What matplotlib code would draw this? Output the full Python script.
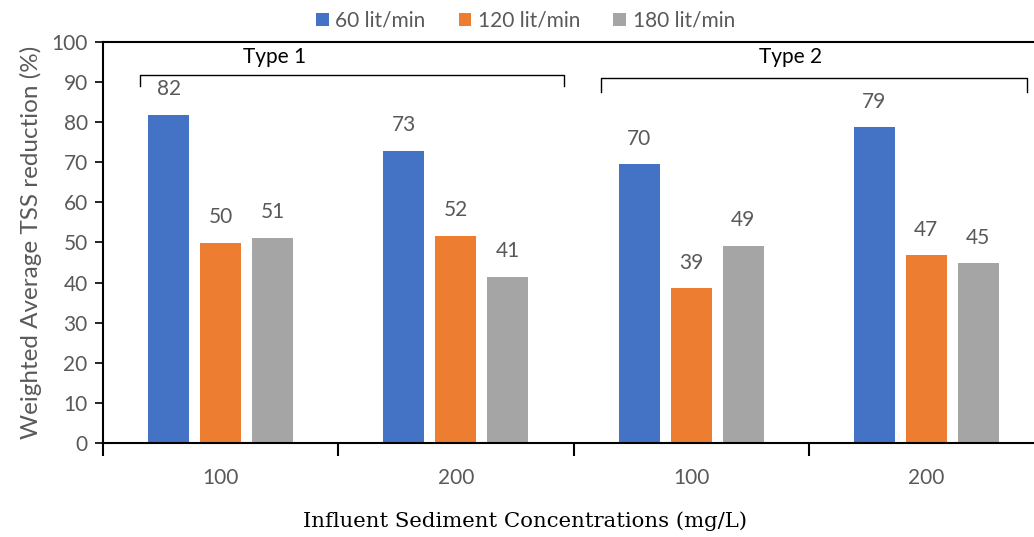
import numpy as np
import matplotlib
matplotlib.use("Agg")
import matplotlib.pyplot as plt

# weighted average TSS reduction (%) for each flow rate
categories = ["100", "200", "100", "200"]
series_names = ["60 lit/min", "120 lit/min", "180 lit/min"]
q60 = [81.8, 72.9, 69.5, 78.7]
q120 = [49.9, 51.6, 38.6, 46.8]
q180 = [51.2, 41.4, 49.2, 44.8]
group_names = ["Type 1", "Type 2"]

colors = ["#4472C4", "#ED7D31", "#A5A5A5"]
txt_gray = "#595959"
font = "Lato"
fs = 15

W, H = 1034, 537
fig = plt.figure(figsize=(W / 100, H / 100), dpi=100)
# the axis runs on past the right edge of the figure
ax = fig.add_axes([103 / W, 1 - 443 / H, (1044 - 103) / W, (443 - 42) / H])

x = np.arange(len(categories))
bar_w = 0.175
step = 0.221
for k, vals in enumerate([q60, q120, q180]):
    pos = x + (k - 1) * step
    ax.bar(pos, vals, width=bar_w, color=colors[k], label=series_names[k], zorder=2)
    for p, v in zip(pos, vals):
        ax.text(p, v + 6.4, f"{v:.0f}", ha="center", va="center", fontsize=fs,
                color=txt_gray, family=font)

ax.set_xlim(-0.5, 3.5)
ax.set_ylim(0, 100)
ax.set_yticks(np.arange(0, 101, 10))
ax.tick_params(axis="y", direction="out", length=6, width=1.2, labelsize=fs,
               labelcolor=txt_gray, pad=5)
for lab in ax.get_yticklabels():
    lab.set_family(font)

# category labels in the middle, tick marks on the boundaries
ax.set_xticks(x)
ax.set_xticklabels(categories, family=font, fontsize=fs, color=txt_gray)
ax.tick_params(axis="x", which="major", length=0, pad=18)
ax.set_xticks(np.arange(-0.5, 4, 1.0), minor=True)
ax.tick_params(axis="x", which="minor", direction="out", length=9, width=1.5)

for side in ["left", "bottom", "top"]:
    ax.spines[side].set_linewidth(1.5)
ax.spines["right"].set_visible(False)

# group brackets
def bracket(x0, x1, y_top, y_bot, label, label_x, label_y):
    ax.plot([x0, x0, x1, x1], [y_bot, y_top, y_top, y_bot], color="black",
            lw=1.0, clip_on=False, zorder=3)
    ax.text(label_x, label_y, label, ha="center", va="center", fontsize=fs,
            color="black", family=font)

bracket(-0.342, 1.46, 91.8, 89.0, group_names[0], 0.23, 96.3)
bracket(1.616, 3.428, 91.0, 87.5, group_names[1], 2.423, 96.3)

ax.set_ylabel("Weighted Average TSS reduction (%)", fontsize=17.5, color=txt_gray,
              family=font, labelpad=7)
ax.set_xlabel("Influent Sediment Concentrations (mg/L)", fontsize=15.3,
              color="black", family="DejaVu Serif")
ax.xaxis.set_label_coords(0.4485, -0.17, transform=ax.transAxes)

leg = fig.legend(loc="upper center", bbox_to_anchor=(0.508, 1.015), ncol=3,
                 frameon=False, prop={"family": font, "size": fs},
                 handlelength=0.62, handleheight=0.62, handletextpad=0.3,
                 columnspacing=1.6)
for t in leg.get_texts():
    t.set_color(txt_gray)

fig.savefig("out.png", dpi=100)
